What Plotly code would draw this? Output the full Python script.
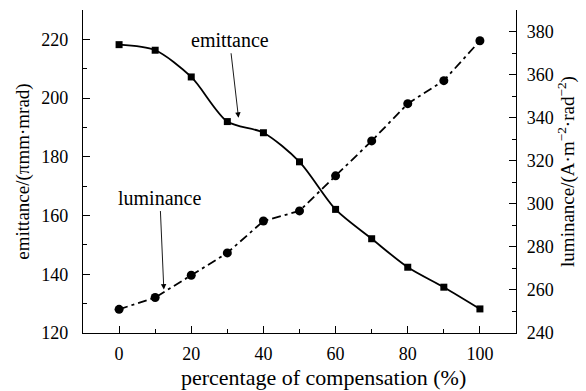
import plotly.graph_objects as go

# Percentage of compensation (%)
compensation = [0, 10, 20, 30, 40, 50, 60, 70, 80, 90, 100]
# Emittance, pi mm mrad (left axis)
emittance = [218.2, 216.3, 207.2, 192.0, 188.2, 178.3, 162.1, 152.1, 142.4, 135.6, 128.2]
# Luminance, A m^-2 rad^-2 (right axis)
luminance = [251.0, 256.5, 266.8, 277.2, 292.0, 296.7, 313.0, 329.2, 346.5, 357.2, 375.7]

FONT = "Times New Roman, Liberation Serif, DejaVu Serif, serif"

fig = go.Figure()

fig.add_trace(go.Scatter(
    x=compensation, y=emittance, mode="lines+markers",
    line=dict(color="black", width=1.8, shape="spline", smoothing=0.8),
    marker=dict(symbol="square", size=7, color="black"),
    showlegend=False, yaxis="y",
))

fig.add_trace(go.Scatter(
    x=compensation, y=luminance, mode="lines+markers",
    line=dict(color="black", width=1.8, dash="9px,4px,3px,4px"),
    marker=dict(symbol="circle", size=9, color="black"),
    showlegend=False, yaxis="y2",
))

axis_common = dict(
    showline=True, linecolor="black", linewidth=1.3,
    ticks="inside", ticklen=7, tickwidth=1.2, tickcolor="black",
    showgrid=False, zeroline=False,
    tickfont=dict(family=FONT, size=18, color="black"),
)
minor_ticks = dict(dtick=10, ticklen=4, ticks="inside", tickcolor="black", tickwidth=1.2)

fig.update_layout(
    width=586, height=391,
    margin=dict(l=83, r=70, t=10, b=58),
    paper_bgcolor="white", plot_bgcolor="white",
    font=dict(family=FONT, color="black"),
    xaxis=dict(
        range=[-10, 110], tick0=0, dtick=20, minor=minor_ticks,
        ticklabelstandoff=4,
        **axis_common,
    ),
    yaxis=dict(
        range=[120, 230], tick0=120, dtick=20, minor=minor_ticks,
        title=dict(text="emittance/(πmm·mrad)", font=dict(family=FONT, size=19), standoff=6),
        ticklabelstandoff=10,
        **axis_common,
    ),
    yaxis2=dict(
        range=[240, 390], tick0=240, dtick=20, overlaying="y", side="right", minor=minor_ticks,
        title=dict(text="luminance/(A·m<sup>−2</sup>·rad<sup>−2</sup>)", font=dict(family=FONT, size=19), standoff=4),
        ticklabelstandoff=6,
        **axis_common,
    ),
)

# x-axis caption, placed slightly right of the plot centre
fig.add_annotation(x=0.555, y=-0.139, xref="paper", yref="paper",
                   xanchor="center", yanchor="middle", showarrow=False,
                   text="percentage of compensation (%)",
                   font=dict(family=FONT, size=22))

# Curve labels with pointer arrows
fig.add_annotation(x=33.1, y=193.3, xref="x", yref="y", text="emittance",
                   showarrow=True, ax=-9, ay=-78, arrowhead=2, arrowsize=1.2,
                   arrowwidth=0.9, arrowcolor="black", startstandoff=1,
                   font=dict(family=FONT, size=20))
fig.add_annotation(x=12.4, y=134.8, xref="x", yref="y", text="luminance",
                   showarrow=True, ax=-4, ay=-92, arrowhead=2, arrowsize=1.2,
                   arrowwidth=0.9, arrowcolor="black", startstandoff=1,
                   font=dict(family=FONT, size=20))

fig.write_html("out.html")
